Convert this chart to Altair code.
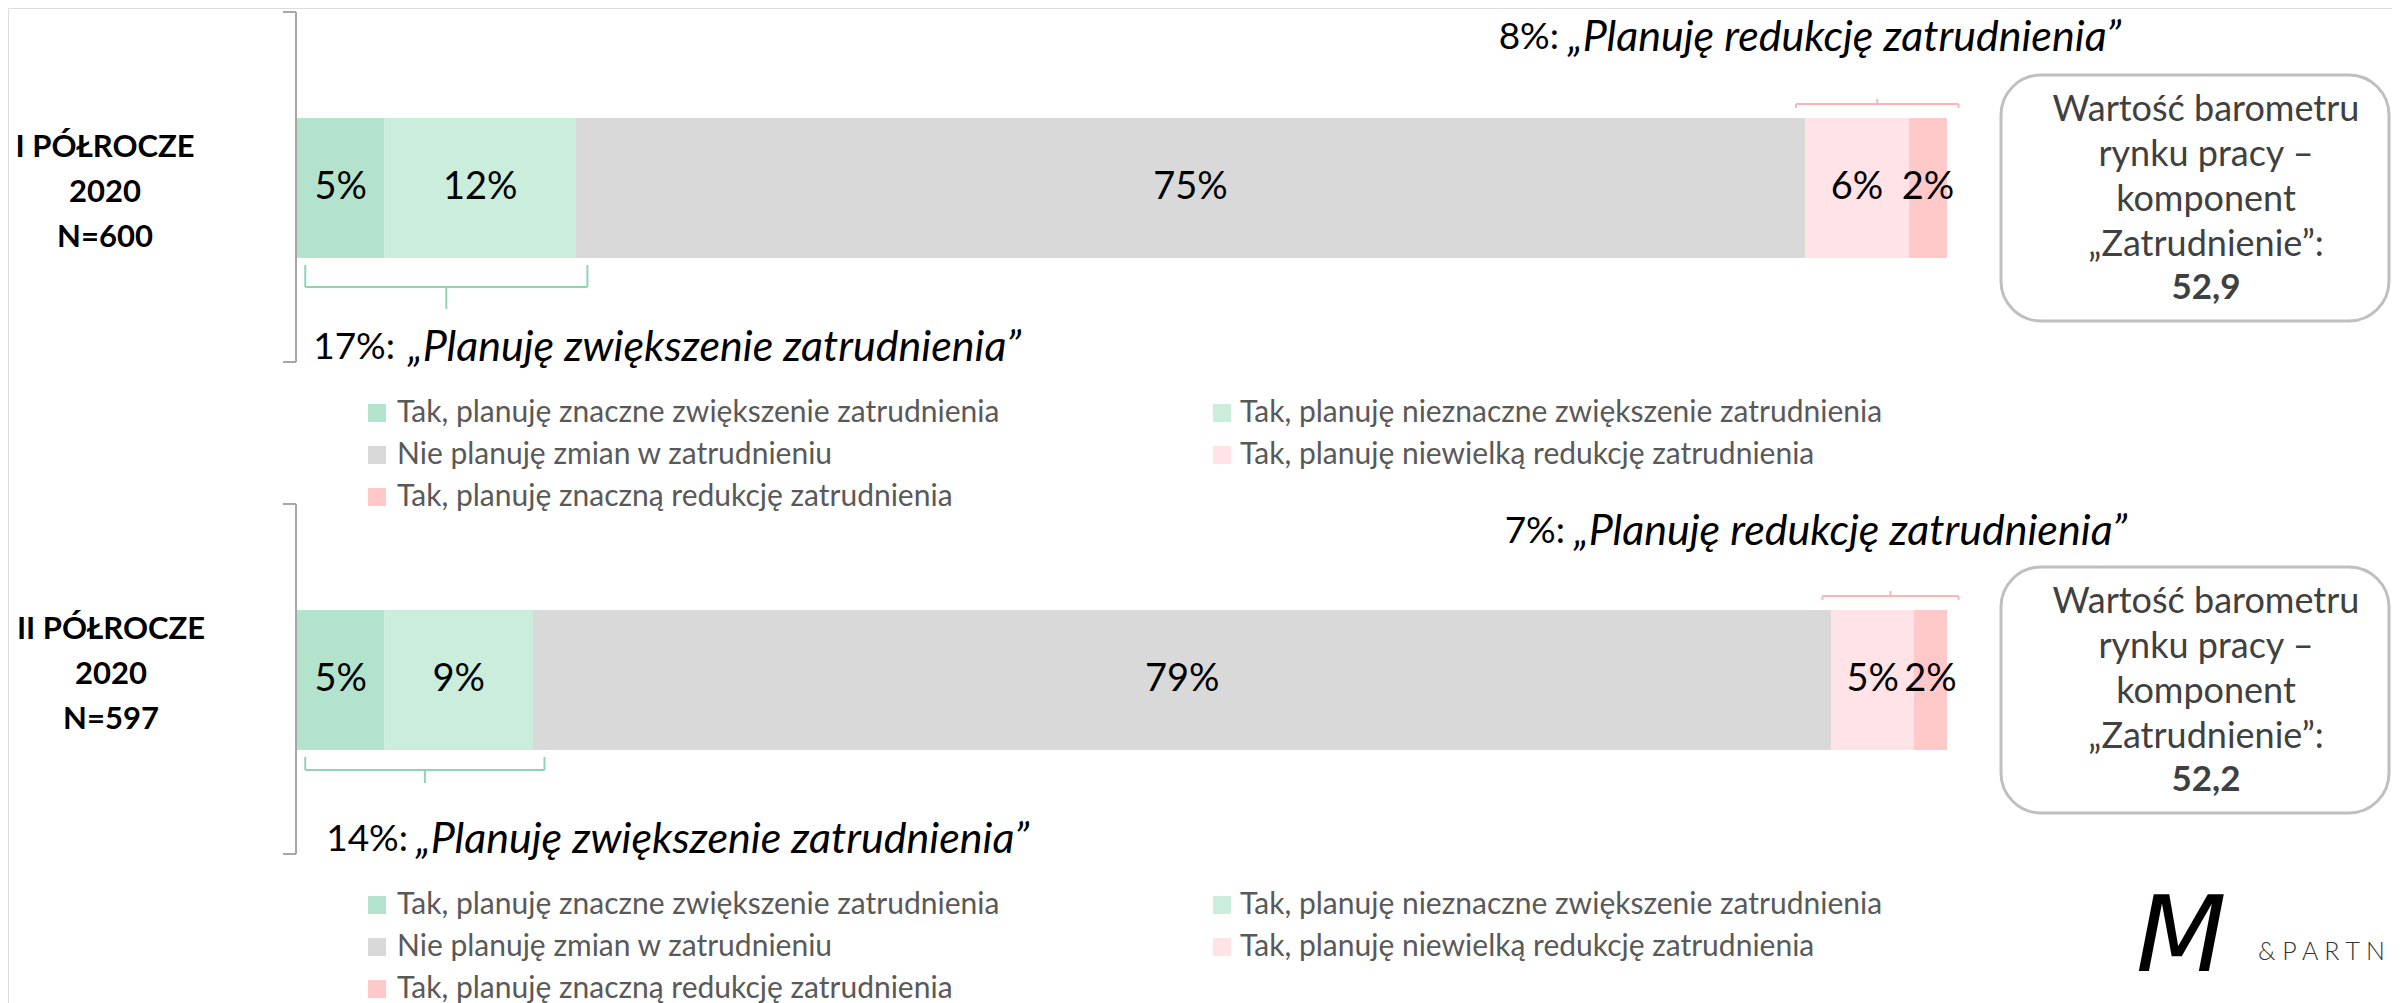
import altair as alt
import pandas as pd

# ---------------- data ----------------
period_ids = ["I PÓŁROCZE 2020", "II PÓŁROCZE 2020"]
period_titles = [["I PÓŁROCZE", "2020", "N=600"], ["II PÓŁROCZE", "2020", "N=597"]]
categories = [
    "Tak, planuję znaczne zwiększenie zatrudnienia",
    "Tak, planuję nieznaczne zwiększenie zatrudnienia",
    "Nie planuję zmian w zatrudnieniu",
    "Tak, planuję niewielką redukcję zatrudnienia",
    "Tak, planuję znaczną redukcję zatrudnienia",
]
shares_h1 = [5.3, 11.6, 74.5, 6.3, 2.3]
shares_h2 = [5.3, 9.0, 78.7, 5.0, 2.0]
share_labels_h1 = ["5%", "12%", "75%", "6%", "2%"]
share_labels_h2 = ["5%", "9%", "79%", "5%", "2%"]
increase_labels = ["17%:", "14%:"]
reduction_labels = ["8%:", "7%:"]
increase_text = "„Planuję zwiększenie zatrudnienia”"
reduction_text = "„Planuję redukcję zatrudnienia”"
box_lines = ["Wartość barometru", "rynku pracy –", "komponent", "„Zatrudnienie”:"]
barometer_values = ["52,9", "52,2"]
colors = ["#b3e3cc", "#cbeddc", "#d9d9d9", "#ffe3e6", "#ffc9c9"]

# ---------------- layout (pixels in chart coordinates) ----------------
W, H = 2384, 995
X_RANGE = [289, 1939]
BAR_RANGE = [110, 742]
PAD_INNER = 1 - 140 / 492
DY = [0, 492]
FONT = "Lato"

all_shares = [shares_h1, shares_h2]
all_labels = [share_labels_h1, share_labels_h2]

rows = []
for pid, shares, labs in zip(period_ids, all_shares, all_labels):
    s = 0.0
    for ci, (cat, v, lab) in enumerate(zip(categories, shares, labs)):
        rows.append(dict(period=pid, category=cat, order=ci, start=s, end=s + v,
                         mid=s + v / 2, label=lab))
        s += v
bars_df = pd.DataFrame(rows)

xs = alt.Scale(domain=[0, 100], range=X_RANGE)
ys = alt.Scale(domain=period_ids, range=BAR_RANGE, paddingInner=PAD_INNER, paddingOuter=0)
cs = alt.Scale(domain=categories, range=colors)

bars = alt.Chart(bars_df).mark_bar().encode(
    x=alt.X("start:Q", scale=xs, axis=None),
    x2="end:Q",
    y=alt.Y("period:N", scale=ys, axis=None),
    color=alt.Color("category:N", scale=cs, legend=None),
    order="order:Q",
)
bar_text = alt.Chart(bars_df).mark_text(fontSize=38, color="#000000", baseline="middle",
                                         font=FONT).encode(
    x=alt.X("mid:Q", scale=xs, axis=None),
    y=alt.Y("period:N", scale=ys, axis=None),
    text="label:N",
)

# brackets (green below, pink above) derived from data
green_y = [(257, 279, 301), (749, 762, 775)]
seg = []
for pi, shares in enumerate(all_shares):
    inc = shares[0] + shares[1]
    red = shares[3] + shares[4]
    x0, x1 = 0.5, inc + 0.7
    ya, yb, yc = green_y[pi]
    g = "#8fd5b4"
    seg += [dict(x=x0, x2=x0, y=ya, y2=yb, c=g), dict(x=x1, x2=x1, y=ya, y2=yb, c=g),
            dict(x=x0, x2=x1, y=yb, y2=yb, c=g),
            dict(x=(x0 + x1) / 2, x2=(x0 + x1) / 2, y=yb, y2=yc, c=g)]
    p0, p1 = 100 - red - 0.55, 100.7
    ya, yb, yc = 100 + DY[pi], 96 + DY[pi], 91 + DY[pi]
    p = "#ffb3b3"
    seg += [dict(x=p0, x2=p0, y=ya, y2=yb, c=p), dict(x=p1, x2=p1, y=ya, y2=yb, c=p),
            dict(x=p0, x2=p1, y=yb, y2=yb, c=p),
            dict(x=(p0 + p1) / 2, x2=(p0 + p1) / 2, y=yb, y2=yc, c=p)]
seg_df = pd.DataFrame(seg)
brackets = alt.Chart(seg_df).mark_rule(strokeWidth=2).encode(
    x=alt.X("x:Q", scale=xs, axis=None), x2="x2:Q",
    y=alt.Y("y:Q", scale=None, axis=None), y2="y2:Q",
    color=alt.Color("c:N", scale=None),
)

# grey brackets on the left
gb = []
for d in DY:
    top, bot = 4 + d, 354 + d
    gb += [dict(x=288, x2=288, y=top, y2=bot), dict(x=275, x2=288, y=top, y2=top),
           dict(x=275, x2=288, y=bot, y2=bot)]
grey_brackets = alt.Chart(pd.DataFrame(gb)).mark_rule(strokeWidth=2, color="#a6a6a6").encode(
    x=alt.X("x:Q", scale=None, axis=None), x2="x2:Q",
    y=alt.Y("y:Q", scale=None, axis=None), y2="y2:Q",
)

# boxes
box_df = pd.DataFrame([dict(x=1993, x2=2381, y=67 + d, y2=313 + d) for d in DY])
boxes = alt.Chart(box_df).mark_rect(cornerRadius=40, fill="white", stroke="#bfbfbf",
                                    strokeWidth=3).encode(
    x=alt.X("x:Q", scale=None, axis=None), x2="x2:Q",
    y=alt.Y("y:Q", scale=None, axis=None), y2="y2:Q",
)


def text_layer(records, **kw):
    base = dict(font=FONT, baseline="middle")
    base.update(kw)
    return alt.Chart(pd.DataFrame(records)).mark_text(**base).encode(
        x=alt.X("x:Q", scale=None, axis=None),
        y=alt.Y("y:Q", scale=None, axis=None),
        text="t:N",
    )


# period titles
title_y = [(140, 185, 230), (622, 667, 712)]
title_x = [97, 103]
title_recs = []
for pi, lines in enumerate(period_titles):
    for li, line in enumerate(lines):
        title_recs.append(dict(x=title_x[pi], y=title_y[pi][li], t=line))
titles = text_layer(title_recs, fontSize=31, fontWeight="bold", color="#000000", align="center")

# annotations
num_recs, ital_recs = [], []
inc_pos = [(387, 400, 340), (400, 408, 832)]
red_pos = [(1551, 1560, 30), (1557, 1566, 524)]
for pi in range(2):
    a, b, y = inc_pos[pi]
    num_recs.append(dict(x=a, y=y, t=increase_labels[pi]))
    ital_recs.append(dict(x=b, y=y, t=increase_text))
    a, b, y = red_pos[pi]
    num_recs.append(dict(x=a, y=y, t=reduction_labels[pi]))
    ital_recs.append(dict(x=b, y=y, t=reduction_text))
nums = text_layer(num_recs, fontSize=37, color="#000000", align="right")
itals = text_layer(ital_recs, fontSize=43, color="#000000", align="left", fontStyle="italic")

# box texts
box_line_y = [102, 147, 192, 237]
box_recs, val_recs = [], []
for pi, d in enumerate(DY):
    for li, line in enumerate(box_lines):
        box_recs.append(dict(x=2198, y=box_line_y[li] + d, t=line))
    val_recs.append(dict(x=2198, y=280 + d, t=barometer_values[pi]))
box_text = text_layer(box_recs, fontSize=36, color="#404040", align="center")
val_text = text_layer(val_recs, fontSize=35, color="#404040", align="center", fontWeight="bold")

# legends
leg_col_sq = [369, 1214]
leg_col_tx = [389, 1232]
leg_row_y = [405, 447, 489]
sq_recs, lt_recs = [], []
for d in DY:
    for ci, cat in enumerate(categories):
        col, row = ci % 2, ci // 2
        sq_recs.append(dict(x=leg_col_sq[col], y=leg_row_y[row] + d, c=colors[ci]))
        lt_recs.append(dict(x=leg_col_tx[col], y=leg_row_y[row] + d, t=cat))
squares = alt.Chart(pd.DataFrame(sq_recs)).mark_square(size=324, opacity=1).encode(
    x=alt.X("x:Q", scale=None, axis=None),
    y=alt.Y("y:Q", scale=None, axis=None),
    color=alt.Color("c:N", scale=None),
)
leg_text = text_layer(lt_recs, fontSize=30, color="#595959", align="left")

# logo
logo_txt = text_layer([dict(x=2250, y=944, t="&  P A R T N")], fontSize=25, color="#333333",
                      align="left", fontWeight=300)
logo_m = text_layer([dict(x=2128, y=963, t="M")], fontSize=105, color="#000000", align="left",
                    baseline="alphabetic", font="DejaVu Sans", fontStyle="italic")

chart = alt.layer(
    grey_brackets, bars, bar_text, brackets, boxes, titles, nums, itals, box_text, val_text,
    squares, leg_text, logo_txt, logo_m,
).properties(
    width=W, height=H, padding=0, autosize=alt.AutoSizeParams(type="none"),
).configure_view(stroke=None).configure(font=FONT)

chart.save("out.html", embed_options={"renderer": "svg", "actions": False})
